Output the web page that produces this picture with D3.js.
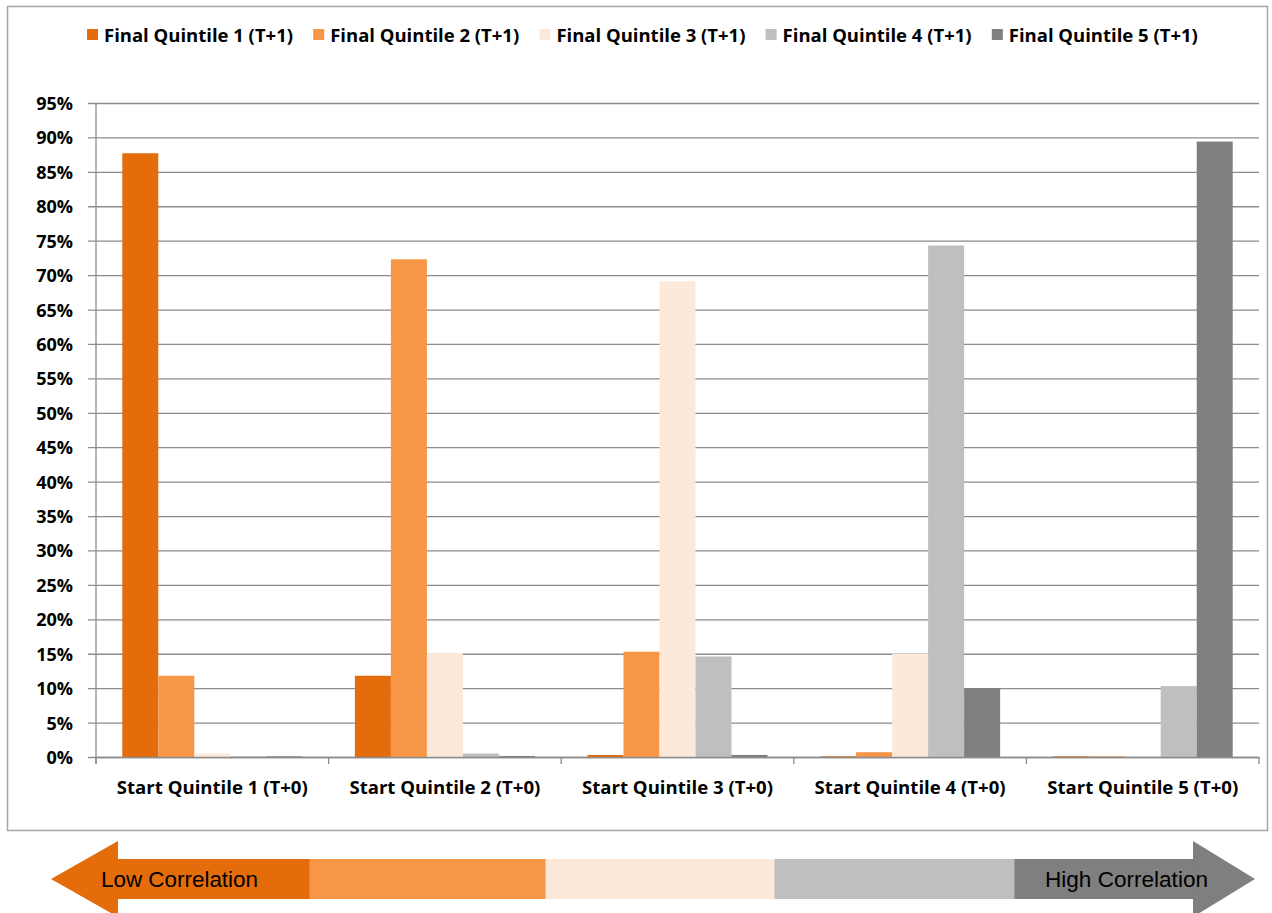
<!DOCTYPE html>
<html><head><meta charset="utf-8">
<script src="https://cdn.jsdelivr.net/npm/d3@7"></script>
<style>body{margin:0;background:#fff}svg{display:block}</style>
</head><body>
<script>
const categories = ["Start Quintile 1 (T+0)","Start Quintile 2 (T+0)","Start Quintile 3 (T+0)","Start Quintile 4 (T+0)","Start Quintile 5 (T+0)"];
const seriesNames = ["Final Quintile 1 (T+1)","Final Quintile 2 (T+1)","Final Quintile 3 (T+1)","Final Quintile 4 (T+1)","Final Quintile 5 (T+1)"];
const seriesColors = ["#E46C0A","#F79646","#FDE9D9","#BFBFBF","#7F7F7F"];
// values per final quintile across start quintiles (percent)
const final1 = [87.7, 11.8, 0.3, 0.1, 0.1];
const final2 = [11.8, 72.3, 15.3, 0.7, 0.1];
const final3 = [0.5, 15.1, 69.1, 15.0, 0.0];
const final4 = [0.1, 0.5, 14.6, 74.3, 10.3];
const final5 = [0.1, 0.15, 0.3, 10.0, 89.4];
const yTicks = [0,5,10,15,20,25,30,35,40,45,50,55,60,65,70,75,80,85,90,95];
const arrowLabels = ["Low Correlation","High Correlation"];

const seriesValues = [final1, final2, final3, final4, final5];
const W = 1272, H = 913;
const svg = d3.select("body").append("svg").attr("width", W).attr("height", H);
const font = "'Open Sans', Lato, sans-serif";

// frame
svg.append("rect").attr("x",7.5).attr("y",6.5).attr("width",1260).attr("height",824)
  .attr("fill","#fff").attr("stroke","#A6A6A6").attr("stroke-width",1.5);

const plot = {left:96, right:1259, top:103, bottom:757};
const y = d3.scaleLinear().domain([0,95]).range([plot.bottom, plot.top]);
const x0 = d3.scaleBand().domain(categories).range([plot.left, plot.right]).paddingInner(0).paddingOuter(0);
const x1 = d3.scaleBand().domain(d3.range(5)).range([0, x0.bandwidth()]).paddingInner(0).paddingOuter(0.73);

// gridlines + y labels
const yAxis = d3.axisLeft(y).tickValues(yTicks).tickSize(-(plot.right-plot.left)).tickSizeOuter(0).tickPadding(23)
  .tickFormat(d => d + "%");
const gy = svg.append("g").attr("transform",`translate(${plot.left},0)`).call(yAxis);
gy.select(".domain").remove();
gy.selectAll(".tick line").attr("stroke","#8C8C8C").attr("stroke-width",1.3).attr("x1",-8);
gy.selectAll(".tick text").attr("font-family",font).attr("font-weight","bold").attr("font-size",18).attr("fill","#000")
  .attr("dy","0.36em");

// bars
const data = [];
categories.forEach((c,ci)=>seriesValues.forEach((vals,si)=>data.push({c,si,v:vals[ci]})));
svg.append("g").selectAll("rect").data(data).join("rect")
  .attr("x", d => x0(d.c) + x1(d.si))
  .attr("width", x1.bandwidth())
  .attr("y", d => y(d.v))
  .attr("height", d => Math.max(1.2, y(0) - y(d.v)))
  .attr("fill", d => seriesColors[d.si]);

// y axis line
svg.append("line").attr("x1",plot.left).attr("x2",plot.left).attr("y1",plot.top).attr("y2",plot.bottom+7)
  .attr("stroke","#8C8C8C").attr("stroke-width",1.3);

// x axis
const xAxis = d3.axisBottom(x0).tickSize(0).tickPadding(24);
const gx = svg.append("g").attr("transform",`translate(0,${plot.bottom})`).call(xAxis);
gx.select(".domain").attr("stroke","#8C8C8C").attr("stroke-width",1.3);
gx.selectAll(".tick text").attr("font-family",font).attr("font-weight","bold").attr("font-size",18.5).attr("fill","#000")
  .attr("textLength",191).attr("lengthAdjust","spacingAndGlyphs");
// category boundary ticks
const bounds = categories.map(c=>x0(c)).concat([plot.right]);
svg.append("g").selectAll("line").data(bounds).join("line")
  .attr("x1",d=>d).attr("x2",d=>d).attr("y1",plot.bottom).attr("y2",plot.bottom+7)
  .attr("stroke","#8C8C8C").attr("stroke-width",1.3);

// legend
const lg = svg.append("g");
const legX = d3.scaleBand().domain(d3.range(5)).range([87, 87+5*226.2]);
const li = lg.selectAll("g").data(seriesNames).join("g").attr("transform",(d,i)=>`translate(${legX(i)},35)`);
li.append("rect").attr("x",0).attr("y",-6).attr("width",11).attr("height",11).attr("fill",(d,i)=>seriesColors[i]);
li.append("text").attr("x",17).attr("y",0).attr("dy","0.36em").text(d=>d)
  .attr("font-family",font).attr("font-weight","bold").attr("font-size",18.5).attr("fill","#000")
  .attr("textLength",189).attr("lengthAdjust","spacingAndGlyphs");

// bottom arrow
const ay = 879, bodyH = 20, headH = 38;
const stops = [118, 310, 546, 775, 1015, 1193];
const ag = svg.append("g");
ag.append("path").attr("d",`M51,${ay} L118,${ay-headH} L118,${ay+headH} Z`).attr("fill",seriesColors[0]);
ag.append("path").attr("d",`M1193,${ay-headH} L1255,${ay} L1193,${ay+headH} Z`).attr("fill",seriesColors[4]);
ag.selectAll("rect").data(d3.range(5)).join("rect")
  .attr("x",i=>stops[i]-0.5).attr("width",i=>stops[i+1]-stops[i]+1)
  .attr("y",ay-bodyH).attr("height",bodyH*2).attr("fill",i=>seriesColors[i]);
ag.append("text").attr("x",101).attr("y",ay).attr("dy","0.35em").text(arrowLabels[0])
  .attr("font-family","'Liberation Sans', Arial, sans-serif").attr("font-size",22).attr("fill","#000")
  .attr("textLength",157).attr("lengthAdjust","spacingAndGlyphs");
ag.append("text").attr("x",1045).attr("y",ay).attr("dy","0.35em").text(arrowLabels[1])
  .attr("font-family","'Liberation Sans', Arial, sans-serif").attr("font-size",22).attr("fill","#000")
  .attr("textLength",163).attr("lengthAdjust","spacingAndGlyphs");
</script>
</body></html>
